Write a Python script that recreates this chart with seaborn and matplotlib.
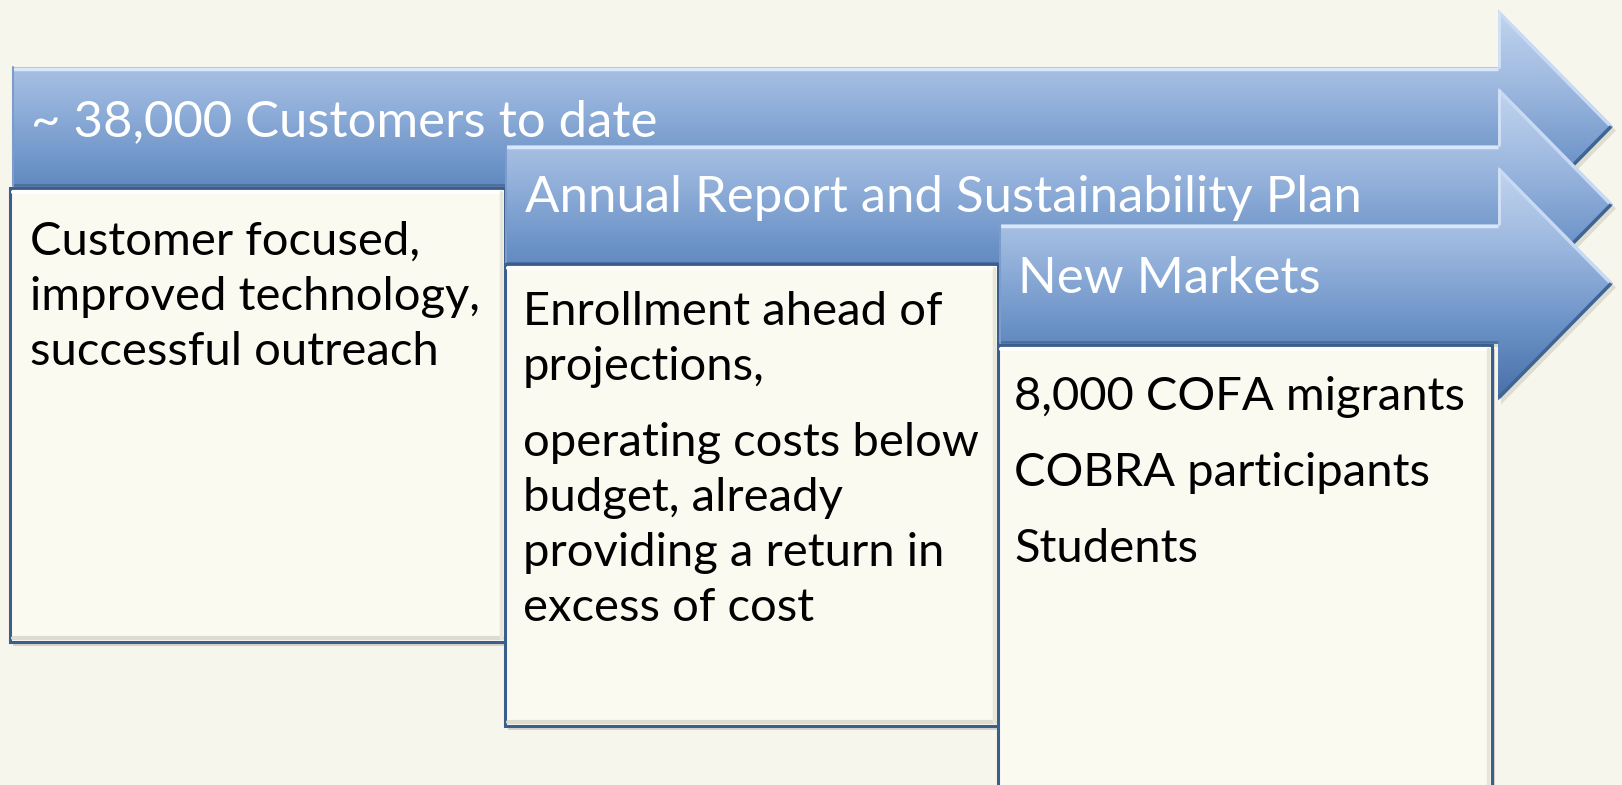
import numpy as np
import matplotlib
matplotlib.use("Agg")
import matplotlib.pyplot as plt
import seaborn as sns
from matplotlib.patches import Polygon, Rectangle

# ---------------- content ----------------
headers = ["~ 38,000 Customers to date",
           "Annual Report and Sustainability Plan",
           "New Markets"]
body_box1 = [["Customer focused,", "improved technology,", "successful outreach"]]
body_box2 = [["Enrollment ahead of", "projections,"],
             ["operating costs below", "budget, already",
              "providing a return in", "excess of cost"]]
body_box3 = [["8,000 COFA migrants"], ["COBRA participants"], ["Students"]]
bodies = [body_box1, body_box2, body_box3]

# ---------------- layout (pixels, y down) ----------------
W, H = 1622, 785
arrow_x0 = [12, 505, 999]
shaft_top = [67, 145, 224]
shaft_h = 119
head_back = 1498
tip_x = 1613
head_half = 117
box_left = [10, 505, 998]
box_right = [505, 998, 1492]
box_top = [188, 264, 345]
box_bottom = [642, 726, 805]
header_x = [31, 525, 1018]
header_base = [136, 212, 293]
body_x = [30, 523, 1014]
body_base = [255, 325, 410]
line_gap = 55
para_gap = 21

BG = "#f6f6ec"
BOX_FILL = "#fafaf0"
BOX_EDGE = "#3a5f8c"

sns.set_theme(style="white")
plt.rcParams['font.family'] = ['Lato', 'DejaVu Sans']

fig = plt.figure(figsize=(W / 100, H / 100), dpi=100, facecolor=BG)
ax = fig.add_axes([0, 0, 1, 1])
ax.set_xlim(0, W)
ax.set_ylim(H, 0)
ax.axis("off")
ax.set_facecolor(BG)

grad_cmap = sns.blend_palette(["#c3d5ef", "#9db8df", "#6d94c8", "#4870a8"], as_cmap=True)
grad = np.linspace(0, 1, 256).reshape(-1, 1)


def draw_arrow(i, z):
    x0 = arrow_x0[i]
    st = shaft_top[i]
    sb = st + shaft_h
    c = st + shaft_h / 2
    ht, hb = c - head_half, c + head_half
    verts = [(x0, st), (head_back, st), (head_back, ht), (tip_x, c),
             (head_back, hb), (head_back, sb), (x0, sb)]
    # soft shadow
    sh = Polygon([(x + 3, y + 4) for x, y in verts], closed=True,
                 facecolor="#6f6f60", alpha=0.18, edgecolor="none", zorder=z)
    ax.add_patch(sh)
    poly = Polygon(verts, closed=True, facecolor="none", edgecolor="none", zorder=z + 0.1)
    ax.add_patch(poly)
    im = ax.imshow(grad, extent=(x0, tip_x, hb, ht), aspect="auto", cmap=grad_cmap,
                   origin="upper", zorder=z + 0.2, interpolation="bilinear")
    im.set_clip_path(poly)
    # bevel highlights
    ax.plot([x0 + 1, head_back], [st + 1.5, st + 1.5], color="#d9e7fa", lw=2.5,
            zorder=z + 0.3, solid_capstyle="butt")
    ax.plot([head_back + 1, tip_x - 2], [ht + 3, c], color="#c8daf3", lw=2.5,
            zorder=z + 0.3, solid_capstyle="butt")
    ax.plot([head_back + 1, head_back + 1], [ht + 2, st], color="#d2e1f6", lw=2,
            zorder=z + 0.3)
    ax.plot([x0 + 1, head_back], [sb - 1.5, sb - 1.5], color="#4a6f9f", lw=2,
            zorder=z + 0.3, solid_capstyle="butt")
    ax.plot([tip_x - 2, head_back + 1], [c, hb - 3], color="#3f6496", lw=2.5,
            zorder=z + 0.3, solid_capstyle="butt")
    ax.plot([x0 + 1, x0 + 1], [st, sb], color="#7d9ccb", lw=1.5, zorder=z + 0.3)
    ax.text(header_x[i], header_base[i], headers[i], color="white",
            fontsize=header_fs, va="baseline", ha="left", zorder=z + 0.4)


def draw_box(i, z):
    l, r, t, b = box_left[i], box_right[i], box_top[i], box_bottom[i]
    ax.add_patch(Rectangle((l + 3, t + 4), r - l, b - t, facecolor="#5f5f50",
                           alpha=0.22, edgecolor="none", zorder=z))
    ax.add_patch(Rectangle((l, t), r - l, b - t, facecolor=BOX_FILL,
                           edgecolor=BOX_EDGE, lw=2.2, zorder=z + 0.1))
    # inner bevel
    ax.plot([l + 3, r - 3], [t + 4, t + 4], color="white", lw=3, zorder=z + 0.2)
    ax.plot([l + 3, r - 3], [b - 4, b - 4], color="#dcdcd0", lw=3, zorder=z + 0.2)
    ax.plot([r - 4, r - 4], [t + 4, b - 4], color="#e6e6da", lw=2.5, zorder=z + 0.2)
    y = body_base[i]
    for p_i, para in enumerate(bodies[i]):
        if p_i > 0:
            y += para_gap
        for line in para:
            ax.text(body_x[i], y, line, color="black", fontsize=body_fs,
                    va="baseline", ha="left", zorder=z + 0.3)
            y += line_gap


# fit font sizes to reference widths
renderer = fig.canvas.get_renderer()


def fit(txt, target, start):
    t = ax.text(0, 0, txt, fontsize=start)
    w = t.get_window_extent(renderer=renderer).width
    t.remove()
    return start * target / w


header_fs = fit(headers[0], 627, 40)
body_fs = fit(body_box1[0][1], 448, 30)

z = 1
for i in range(3):
    draw_arrow(i, z)
    draw_box(i, z + 1)
    z += 2

fig.savefig("out.png", dpi=100, facecolor=BG)
